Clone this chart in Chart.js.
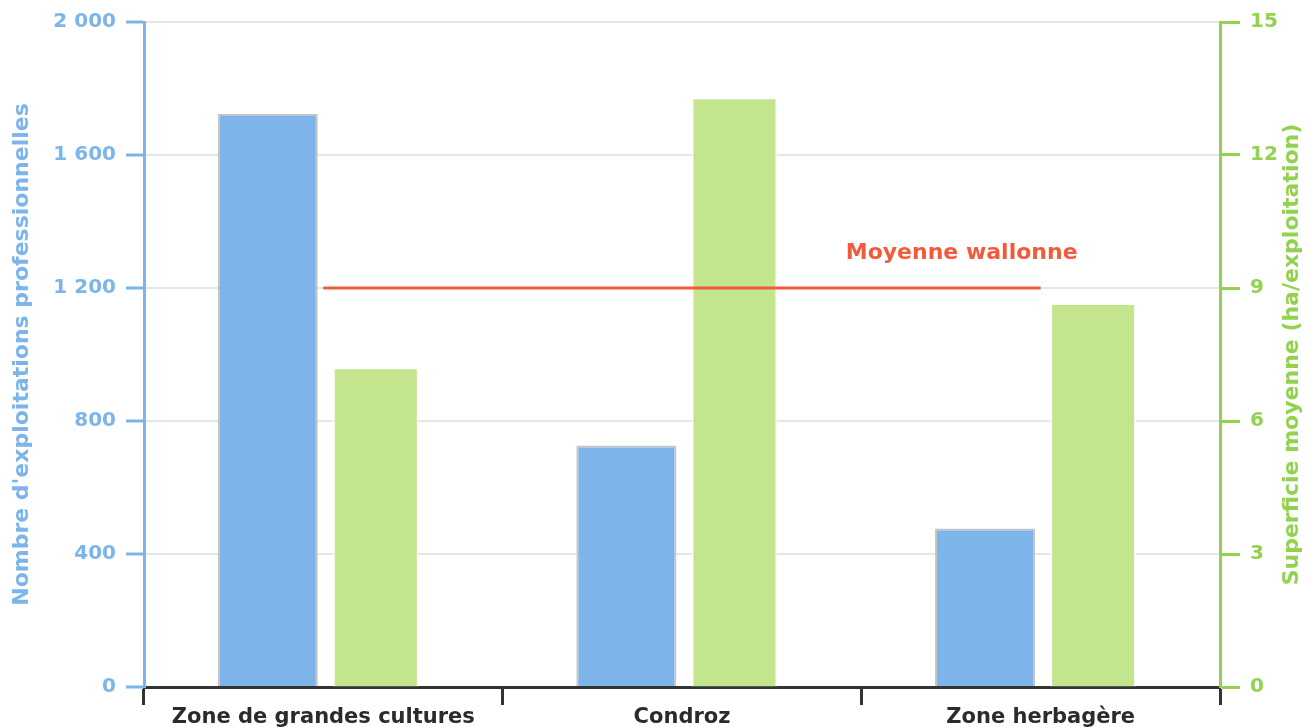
<!DOCTYPE html>
<html>
<head>
<meta charset="utf-8">
<script src="https://cdn.jsdelivr.net/npm/chart.js@4.4.1/dist/chart.umd.min.js"></script>
<style>
  html, body { margin: 0; padding: 0; background: #fff; }
  #wrap { width: 1305px; height: 728px; }
</style>
</head>
<body>
<div id="wrap"><canvas id="graphique"></canvas></div>
<script>
var Zones = ["Zone de grandes cultures", "Condroz", "Zone herbagère"];
var NbExploitations = [1723, 726, 477];
var SuperficieMoyenne = [7.21, 13.3, 8.66];
var MoyenneWallonne = [9, 9, 9];
var LibelleMoyenne = "Moyenne wallonne";
var TitreGauche = "Nombre d'exploitations professionnelles";
var TitreDroite = "Superficie moyenne (ha/exploitation)";

var Bleu = "#7db4ea";
var Vert = "#c2e58e";
var Rouge = "#f15b3b";
var TexteBleu = "#7cb5ec";
var TexteVert = "#93d24f";
var Police = "'DejaVu Sans', Verdana, sans-serif";

// espace comme separateur des milliers (2 000)
function FormatMilliers(v) {
    return String(v).replace(/\B(?=(\d{3})+(?!\d))/g, " ");
}

// texte "Moyenne wallonne" + titre de l'axe droit (lu de bas en haut)
var pluginTextes = {
    id: "textes",
    afterDatasetsDraw: function (chart) {
        var meta = chart.getDatasetMeta(0);
        var dernier = meta.data[meta.data.length - 1];
        var ctx = chart.ctx;
        var zone = chart.chartArea;
        ctx.save();
        ctx.font = "bold 22px " + Police;
        ctx.fillStyle = Rouge;
        ctx.textAlign = "center";
        ctx.textBaseline = "middle";
        ctx.fillText(LibelleMoyenne, dernier.x - 79, dernier.y - 35);

        ctx.translate(1292, (zone.top + zone.bottom) / 2);
        ctx.rotate(-Math.PI / 2);
        ctx.fillStyle = TexteVert;
        ctx.fillText(TitreDroite, 0, 0);
        ctx.restore();
    }
};

new Chart(document.getElementById("graphique"), {
    data: {
        labels: Zones,
        datasets: [{
            type: "line",
            data: MoyenneWallonne,
            yAxisID: "y1",
            borderColor: Rouge,
            borderWidth: 3,
            pointRadius: 0,
            fill: false,
            order: 0
        }, {
            type: "bar",
            data: NbExploitations,
            yAxisID: "y",
            backgroundColor: Bleu,
            borderColor: "#c4c4c4",
            borderWidth: 2,
            categoryPercentage: 0.62,
            barPercentage: 0.9,
            order: 1
        }, {
            type: "bar",
            data: SuperficieMoyenne,
            yAxisID: "y1",
            backgroundColor: Vert,
            borderColor: "rgba(255,255,255,0.75)",
            borderWidth: 2,
            categoryPercentage: 0.585,
            barPercentage: 0.82,
            order: 1
        }]
    },
    options: {
        responsive: true,
        maintainAspectRatio: false,
        animation: false,
        layout: { padding: { top: 22, right: 0, left: 0, bottom: 0 } },
        plugins: {
            legend: { display: false },
            tooltip: { enabled: false }
        },
        scales: {
            x: {
                offset: true,
                grid: {
                    offset: true,
                    drawOnChartArea: false,
                    drawTicks: true,
                    tickLength: 18,
                    tickColor: "#333333",
                    tickWidth: 3
                },
                border: { color: "#333333", width: 3 },
                ticks: {
                    color: "#2b2b2b",
                    padding: 0,
                    font: { family: Police, size: 21, weight: "bold" }
                },
                afterFit: function (s) { s.height = 41; }
            },
            y: {
                position: "left",
                min: 0,
                max: 2000,
                ticks: {
                    stepSize: 400,
                    color: TexteBleu,
                    padding: 10,
                    font: { family: Police, size: 20, weight: "bold" },
                    callback: function (v) { return FormatMilliers(v); }
                },
                grid: {
                    color: "#e6e6e6",
                    lineWidth: 2,
                    tickColor: Bleu,
                    tickWidth: 3,
                    tickLength: 18
                },
                border: { color: Bleu, width: 3 },
                title: {
                    display: true,
                    text: TitreGauche,
                    color: TexteBleu,
                    padding: { top: 9, bottom: 0 },
                    font: { family: Police, size: 22, weight: "bold" }
                },
                afterFit: function (s) { s.width = 144; }
            },
            y1: {
                position: "right",
                min: 0,
                max: 15,
                ticks: {
                    stepSize: 3,
                    color: TexteVert,
                    padding: 10,
                    font: { family: Police, size: 20, weight: "bold" }
                },
                grid: {
                    drawOnChartArea: false,
                    tickColor: TexteVert,
                    tickWidth: 3,
                    tickLength: 20
                },
                border: { color: TexteVert, width: 3 },
                afterFit: function (s) { s.width = 85; }
            }
        }
    },
    plugins: [pluginTextes]
});
</script>
</body>
</html>
